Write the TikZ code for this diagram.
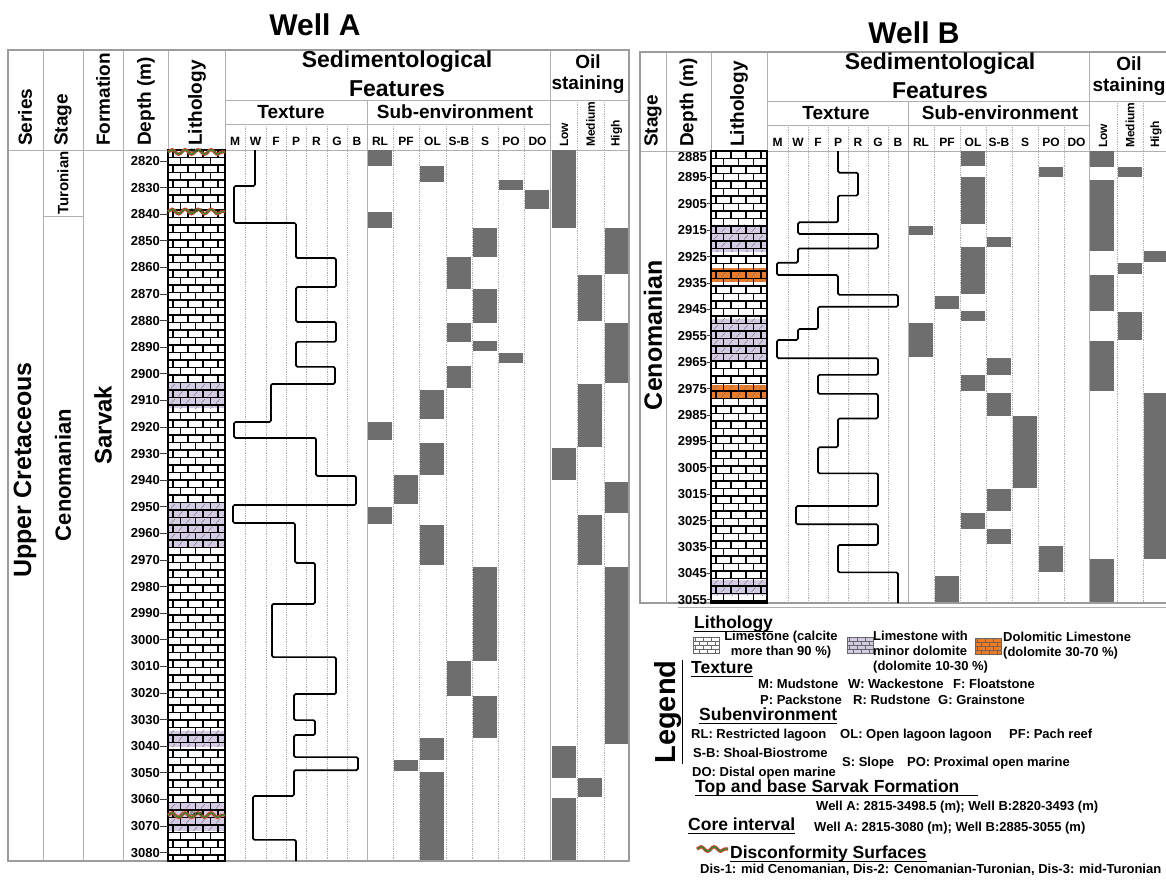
\documentclass[tikz,border=0pt]{standalone}
\usepackage{fontspec}
\setmainfont{Liberation Sans}
\usetikzlibrary{decorations.pathmorphing}

\definecolor{bargray}{HTML}{6E6E6E}
\definecolor{rulegray}{HTML}{9C9C9C}
\definecolor{minordolo}{HTML}{D4CAE4}
\definecolor{dolomitic}{HTML}{EA7B28}
\definecolor{disred}{HTML}{E3392C}
\definecolor{disgreen}{HTML}{2E8A2E}

\tikzset{
  frameline/.style={draw=rulegray, line width=1.2pt},
  thinrule/.style={draw=rulegray!80, line width=0.8pt},
  dotrule/.style={draw=rulegray!80, line width=0.8pt, densely dotted},
  barbox/.style={fill=bargray},
  brickline/.style={draw=black, line width=1.2pt},
  slash/.style={draw=black!55, line width=0.45pt},
  texcurve/.style={draw=black, line width=1.7pt, rounded corners=1.5pt},
  welltitle/.style={font=\fontsize{30}{30}\selectfont\bfseries, inner sep=0},
  colhead/.style={font=\fontsize{19}{19}\selectfont\bfseries, rotate=90, anchor=west, inner sep=0},
  sedhead/.style={font=\fontsize{23}{29}\selectfont\bfseries, align=center, inner sep=0},
  oilhead/.style={font=\fontsize{19}{21}\selectfont\bfseries, align=center, inner sep=0},
  grouphead/.style={font=\fontsize{19}{19}\selectfont\bfseries, inner sep=0},
  letterhead/.style={font=\fontsize{12}{12}\selectfont\bfseries, inner sep=0},
  levelhead/.style={font=\fontsize{12}{12}\selectfont\bfseries, rotate=90, anchor=west, inner sep=0},
  depthlabel/.style={font=\fontsize{13}{13}\selectfont\bfseries, anchor=east, inner sep=0},
  unitlabel/.style={rotate=90, inner sep=0},
  legheading/.style={font=\fontsize{17.5}{17.5}\selectfont\bfseries, anchor=base west, inner sep=0},
  legtext/.style={font=\fontsize{13}{15}\selectfont\bfseries, anchor=base west, inner sep=0},
  disnote/.style={font=\fontsize{5}{5}\selectfont\bfseries, text=disgreen!40!black, inner sep=0},
  disdeco/.style={decorate, decoration={snake, amplitude=2.3pt, segment length=13pt}},
}

% brick column: x1 y1 x2 y2
\newcommand{\brickcol}[4]{%
  \begin{scope}
    \clip (#1,#2) rectangle (#3,#4);
    \foreach \r in {0,...,95}{
      \pgfmathsetmacro{\rowy}{#2+7.5*\r}
      \pgfmathsetmacro{\rowx}{#1+5+7.5*mod(\r,2)}
      \draw[brickline] (#1,\rowy) -- (#3,\rowy);
      \foreach \k in {0,...,3}
        \draw[brickline] ({\rowx+15*\k},\rowy) -- ++(0,7.5);
    }
  \end{scope}
  \draw[brickline] (#1,#2) rectangle (#3,#4);
}

% dolomite band: x1 y1 x2 y2 colour brick-origin
\newcommand{\doloband}[6]{%
  \fill[#5] (#1,{#2}) rectangle (#3,{#4});
  \begin{scope}
    \clip (#1,{#2}) rectangle (#3,{#4});
    \pgfmathtruncatemacro{\rowfirst}{floor((#2-#6)/7.5)}
    \pgfmathtruncatemacro{\rowlast}{ceil((#4-#6)/7.5)}
    \foreach \r in {\rowfirst,...,\rowlast}{
      \pgfmathsetmacro{\rowy}{#6+7.5*\r}
      \pgfmathsetmacro{\rowx}{#1+5+7.5*mod(\r,2)}
      \foreach \k in {-1,...,3}
        \draw[slash] ({\rowx+15*\k+5.5},\rowy+6) -- ++(4,-4.5);
    }
  \end{scope}
}

% disconformity: x1 x2 y label name
\newcommand{\disconf}[5]{%
  \draw[disred, line width=3.2pt, disdeco] (#1,{#3}) -- (#2,{#3});
  \draw[disgreen, line width=1.4pt, disdeco] (#1,{#3}) -- (#2,{#3});
  \node[disnote] (#5) at ({(#1+#2)/2},{#3-1}) {#4};
}

% small legend brick: x y colour
\newcommand{\minibrick}[3]{%
  \fill[#3] (#1,#2) rectangle ++(26,16);
  \begin{scope}
    \clip (#1,#2) rectangle ++(26,16);
    \foreach \r in {0,...,3}{
      \draw[draw=black!60, line width=0.5pt] (#1,#2+4*\r) -- ++(26,0);
      \foreach \k in {0,...,3}
        \draw[draw=black!60, line width=0.5pt] ({#1+2+4*mod(\r,2)+8*\k},#2+4*\r) -- ++(0,4);
    }
  \end{scope}
  \draw[draw=black!60, line width=0.5pt] (#1,#2) rectangle ++(26,16);
}

\begin{document}
\begin{tikzpicture}[x=1pt, y=-1pt,
  declare function={ya(\d)=161+2.66*(\d-2820); yb(\d)=151+2.64*(\d-2885);}]
\useasboundingbox (0,0) rectangle (1166,879);
\fill[white] (0,0) rectangle (1166,879);

%%%%%%%%%%%%%%%% Well A
\node[welltitle] (wellA) at (315,25) {Well A};
% grid
\foreach \x in {245,266,286,306,327,347,393,419,446,472,498,524}
  \draw[dotrule] (\x,124) -- (\x,861);
\foreach \x in {577,604} \draw[dotrule] (\x,100) -- (\x,861);
\foreach \x in {43,83,123,550} \draw[thinrule] (\x,50) -- (\x,861);
\draw[thinrule] (367,100) -- (367,861);
\draw[thinrule] (168,50) -- (168,150) (225,50) -- (225,150);
\draw[thinrule] (225,100) -- (629,100) (225,124) -- (550,124) (8,150) -- (629,150);
\draw[thinrule] (43,216) -- (83,216);
% sub-environment and oil staining
\foreach \xl/\dt/\db in {367/2816/2822, 367/2839/2845, 367/2918/2925, 367/2950/2956.5,
    393/2938/2949, 393/3045/3049.3,
    419/2822/2828, 419/2906/2917, 419/2926/2938, 419/2957/2972, 419/3037/3045, 419/3049.6/3083,
    446/2856/2868, 446/2881/2888, 446/2897/2905.5, 446/3008/3021,
    472/2845/2856, 472/2868/2881, 472/2887.5/2891.5, 472/2972.5/3008, 472/3021/3037,
    498/2827/2831, 498/2892/2896, 524/2831/2838,
    551/2816/2845, 551/2928/2940, 551/3040/3052, 551/3059.5/3083,
    577/2863/2880, 577/2904/2927.5, 577/2953/2972, 577/3052/3059,
    604/2845/2862.5, 604/2881/2903.5, 604/2940.5/2952.5, 604/2972.5/3039.3}
  \fill[barbox] (\xl+1,{ya(\dt)}) rectangle (\xl+25,{ya(\db)});
\draw[frameline] (8,50) rectangle (629,861);
% texture
\draw[texcurve] (255,150) |- (234,{ya(2829.4)}) |- (296,{ya(2843.3)}) |- (336,{ya(2856.5)})
  |- (296,{ya(2867.4)}) |- (336,{ya(2880.5)}) |- (296,{ya(2888)}) |- (335,{ya(2897.4)})
  |- (271,{ya(2903.8)}) |- (234,{ya(2918.1)}) |- (316,{ya(2924.1)}) |- (356,{ya(2938.4)})
  |- (233,{ya(2949.3)}) |- (295,{ya(2956.1)}) |- (315,{ya(2971.1)}) |- (272,{ya(2986.5)})
  |- (336,{ya(3006.5)}) |- (294,{ya(3020.4)}) |- (315,{ya(3030.2)}) |- (294,{ya(3035.8)})
  |- (358,{ya(3044.1)}) |- (294,{ya(3049)}) |- (253,{ya(3058.7)}) |- (296,{ya(3075.2)})
  -- (296,861);
% lithology
\doloband{168}{ya(2903.1)}{225}{ya(2912.9)}{minordolo}{150}
\doloband{168}{ya(2948.7)}{225}{ya(2965)}{minordolo}{150}
\doloband{168}{ya(3034.2)}{225}{ya(3040.2)}{minordolo}{150}
\doloband{168}{ya(3061.5)}{225}{ya(3071.9)}{minordolo}{150}
\brickcol{168}{150}{225}{861}
\disconf{168}{225}{ya(2816.6)}{Dis-3}{dis3}
\disconf{168}{225}{ya(2839)}{Dis-2}{dis2}
\disconf{168}{225}{ya(3065.9)}{Dis-1}{dis1}
% depth
\foreach \d in {2820,2830,...,3080}{
  \node[depthlabel] (dA\d) at (160,{ya(\d)}) {\d};
  \draw[black!75, line width=0.8pt] (dA\d.east) -- (168,{ya(\d)});
}
% headers
\node[colhead] (serA) at (25,146) {Series};
\node[colhead] (stgA) at (63,146) {Stage};
\node[colhead] (frmA) at (103,146) {Formation};
\node[colhead] (dptA) at (146,146) {Depth (m)};
\node[colhead] (litA) at (197,146) {Lithology};
\node[sedhead] (sedA) at (397,74) {Sedimentological\\Features};
\node[oilhead] (oilA) at (588,74) {Oil\\staining};
\node[grouphead] (texA) at (291,112) {Texture};
\node[grouphead] (subA) at (455,112) {Sub-environment};
\foreach \lab/\xc [count=\i] in {M/235,W/255.5,F/276,P/296,R/316.5,G/337,B/357,RL/380,PF/406,OL/432.5,S-B/459,S/485,PO/511,DO/537.5}
  \node[letterhead] (lA\i) at (\xc,141) {\lab};
\foreach \lab/\xc [count=\i] in {Low/564,Medium/590.5,High/616.5}
  \node[levelhead] (oA\i) at (\xc,147) {\lab};
\node[unitlabel, font=\fontsize{25}{25}\selectfont\bfseries] (upcA) at (25,470) {Upper Cretaceous};
\node[unitlabel, font=\fontsize{15}{15}\selectfont\bfseries] (turA) at (63,183) {Turonian};
\node[unitlabel, font=\fontsize{22}{22}\selectfont\bfseries] (cenA) at (63,475) {Cenomanian};
\node[unitlabel, font=\fontsize{24}{24}\selectfont\bfseries] (sarA) at (103,425) {Sarvak};

%%%%%%%%%%%%%%%% Well B
\node[welltitle] (wellB) at (914,33) {Well B};
% grid
\foreach \x in {788,808,828,848,868,888,934,960,986,1012,1038,1064}
  \draw[dotrule] (\x,125) -- (\x,603);
\foreach \x in {1117,1143} \draw[dotrule] (\x,101) -- (\x,603);
\foreach \x in {666,1089} \draw[thinrule] (\x,52) -- (\x,603);
\draw[thinrule] (908,101) -- (908,603);
\draw[thinrule] (711,52) -- (711,151) (767,52) -- (767,151);
\draw[thinrule] (767,101) -- (1170,101) (767,125) -- (1089,125) (640,151) -- (1170,151);
% sub-environment and oil staining
\foreach \xl/\dt/\db in {908/2913.5/2917, 908/2950/2963,
    934/2940/2945, 934/3046/3056,
    960/2885/2890.5, 960/2895/2912.5, 960/2921.5/2939, 960/2945.5/2949.5, 960/2970/2976, 960/3022/3028,
    986/2917.5/2921.5, 986/2963.5/2970, 986/2976.5/2985.5, 986/3013/3021.5, 986/3028/3034,
    1012/2985.5/3012.5, 1038/2891/2895, 1038/3034.5/3044.5,
    1089/2885/2891, 1089/2896/2923, 1089/2932/2945.5, 1089/2957/2976, 1089/3039.5/3056,
    1117/2891/2895, 1117/2927.5/2931.5, 1117/2946/2956.5,
    1143/2923/2927, 1143/2976.5/3039.5}
  \fill[barbox] (\xl+1,{yb(\dt)}) rectangle (\xl+25,{yb(\db)});
\draw[frameline] (640,52) rectangle (1170,603);
% texture
\draw[texcurve] (838,151) |- (858,{yb(2893.2)}) |- (838,{yb(2901.9)}) |- (798,{yb(2912)})
  |- (878,{yb(2916.4)}) |- (798,{yb(2921.9)}) |- (777,{yb(2927.3)}) |- (838,{yb(2932)})
  |- (898,{yb(2939.5)}) |- (818,{yb(2944)}) |- (798,{yb(2952.4)}) |- (777,{yb(2956.6)})
  |- (878,{yb(2963.5)}) |- (818,{yb(2969.8)}) |- (878,{yb(2977)}) |- (838,{yb(2986.3)})
  |- (818,{yb(2997.2)}) |- (878,{yb(3007.1)}) |- (796,{yb(3019.5)}) |- (878,{yb(3026.4)})
  |- (838,{yb(3034.2)}) |- (898,{yb(3044.6)}) -- (898,603);
% lithology
\doloband{711}{yb(2913)}{767}{yb(2923.1)}{minordolo}{151}
\doloband{711}{yb(2929.4)}{767}{yb(2934.5)}{dolomitic}{151}
\doloband{711}{yb(2948.6)}{767}{yb(2964.8)}{minordolo}{151}
\doloband{711}{yb(2973.6)}{767}{yb(2978.7)}{dolomitic}{151}
\doloband{711}{yb(3047.5)}{767}{yb(3053.2)}{minordolo}{151}
\brickcol{711}{151}{767}{603}
% depth
\node[depthlabel, anchor=north east] (dB2885) at (707,152) {2885};
\foreach \d in {2895,2905,...,3055}{
  \node[depthlabel] (dB\d) at (707,{yb(\d)}) {\d};
  \draw[black!75, line width=0.8pt] (dB\d.east) -- (711,{yb(\d)});
}
% headers
\node[colhead] (stgB) at (653,147) {Stage};
\node[colhead] (dptB) at (688.5,147) {Depth (m)};
\node[colhead] (litB) at (739,147) {Lithology};
\node[sedhead] (sedB) at (940,76) {Sedimentological\\Features};
\node[oilhead] (oilB) at (1129,76) {Oil\\staining};
\node[grouphead] (texB) at (836,113) {Texture};
\node[grouphead] (subB) at (1000,113) {Sub-environment};
\foreach \lab/\xc [count=\i] in {M/777.5,W/798,F/818,P/838,R/858,G/878,B/898,RL/921,PF/947,OL/973,S-B/999,S/1025,PO/1051,DO/1076.5}
  \node[letterhead] (lB\i) at (\xc,142) {\lab};
\foreach \lab/\xc [count=\i] in {Low/1103,Medium/1130,High/1156}
  \node[levelhead] (oB\i) at (\xc,148) {\lab};
\node[unitlabel, font=\fontsize{25}{25}\selectfont\bfseries] (cenB) at (653,335) {Cenomanian};

%%%%%%%%%%%%%%%% Legend
\draw[thinrule] (678,607) -- (1166,607);
\node[unitlabel, font=\fontsize{29}{29}\selectfont\bfseries] (legend) at (668,712) {Legend};
\draw[line width=1.4pt] ([xshift=1pt]legend.south west) -- ([xshift=1pt]legend.south east);
% lithology
\node[legheading] (hLith) at (694,628) {Lithology};
\draw[line width=1pt] ([yshift=-3pt]hLith.base west) -- ([yshift=-3pt]hLith.base east);
\minibrick{693}{637}{white}
\node[legtext, anchor=base] (lime1) at (781,640) {Limestone (calcite};
\node[legtext, anchor=base] (lime2) at (781,655) {more than 90 \%)};
\minibrick{847}{637}{minordolo}
\node[legtext] (mdol1) at (873,640) {Limestone with};
\node[legtext] (mdol2) at (873,655) {minor dolomite};
\node[legtext] (mdol3) at (873,670) {(dolomite 10-30 \%)};
\minibrick{975}{638}{dolomitic}
\node[legtext] (ddol1) at (1003,641) {Dolomitic Limestone};
\node[legtext] (ddol2) at (1003,656) {(dolomite 30-70 \%)};
% texture
\node[legheading] (hTex) at (691,673) {Texture};
\draw[line width=1pt] ([yshift=-3pt]hTex.base west) -- ([yshift=-3pt]hTex.base east);
\node[legtext] (tM) at (758,688) {M: Mudstone};
\node[legtext] (tW) at (848,688) {W: Wackestone};
\node[legtext] (tF) at (953,688) {F: Floatstone};
\node[legtext] (tP) at (760,704) {P: Packstone};
\node[legtext] (tR) at (853,704) {R: Rudstone};
\node[legtext] (tG) at (938,704) {G: Grainstone};
% sub-environment
\node[legheading] (hSub) at (699,720) {Subenvironment};
\draw[line width=1pt] ([yshift=-3pt]hSub.base west) -- ([yshift=-3pt]hSub.base east);
\node[legtext] (sRL) at (691,738) {RL: Restricted lagoon};
\node[legtext] (sOL) at (840,738) {OL: Open lagoon lagoon};
\node[legtext] (sPF) at (1009,738) {PF: Pach reef};
\node[legtext] (sSB) at (693,757) {S-B: Shoal-Biostrome};
\node[legtext] (sS) at (842,766) {S: Slope};
\node[legtext] (sPO) at (907,766) {PO: Proximal open marine};
\node[legtext] (sDO) at (692,776) {DO: Distal open marine};
% formation, core, surfaces
\node[legheading] (hTop) at (695,792) {Top and base Sarvak Formation};
\draw[line width=1pt] ([yshift=-3pt]hTop.base west) -- ++(283,0);
\node[legtext] (topv) at (816,810) {Well A: 2815-3498.5 (m); Well B:2820-3493 (m)};
\node[legheading] (hCore) at (688,830) {Core interval};
\draw[line width=1pt] ([yshift=-3pt]hCore.base west) -- ([yshift=-3pt]hCore.base east);
\node[legtext] (corev) at (814,831) {Well A: 2815-3080 (m); Well B:2885-3055 (m)};
\draw[disred, line width=3.2pt, disdeco] (697,849) -- (728,849);
\draw[disgreen, line width=1.4pt, disdeco] (697,849) -- (728,849);
\node[legheading] (hDis) at (730,858) {Disconformity Surfaces};
\draw[line width=1pt] ([yshift=-3pt]hDis.base west) -- ([yshift=-3pt]hDis.base east);
\node[legtext] (disv) at (700,873) {Dis-1: mid Cenomanian, Dis-2: Cenomanian-Turonian, Dis-3: mid-Turonian};
\end{tikzpicture}
\end{document}
